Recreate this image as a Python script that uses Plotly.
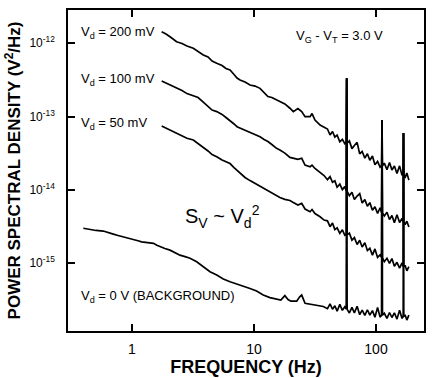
import plotly.graph_objects as go

# ---------------- data ----------------
# shared low-frequency grid (Hz) for the three biased curves
LF_FREQ = [1.75, 1.90, 2.09, 2.32, 2.57, 2.82, 3.18, 3.48, 3.84, 4.20,
           4.53, 4.95, 5.47, 5.89, 6.36, 6.86, 7.26, 7.68, 8.44, 9.27,
           10.2, 11.2, 12.1, 13.0, 14.0, 15.3, 16.3, 17.9, 19.7, 21.0,
           22.9, 24.6, 26.2, 28.8, 29.9, 31.6, 34.8, 37.5]

# background low-frequency grid (Hz)
BG_FREQ = [0.399, 0.453, 0.507, 0.582, 0.639, 0.703, 0.768, 0.849, 0.927, 1.02,
           1.12, 1.20, 1.30, 1.40, 1.50, 1.60, 1.70, 1.86, 2.05, 2.25,
           2.47, 2.72, 2.99, 3.39, 3.84, 4.36, 4.95, 5.60, 6.36, 7.21,
           8.17, 9.27, 10.5, 11.9, 13.5, 15.4, 16.6, 17.9, 19.0, 20.1,
           22.4, 23.6, 24.6, 26.2, 28.2, 30.6, 33.5, 37.0]

# shared high-frequency grid (Hz), includes the mains pick-up lines
HF_FREQ = [40, 42, 44, 46, 48, 50.5, 53, 55.5, 57, 57.5, 58,
           60.5, 63.5, 66.5, 70, 73.5, 77, 81, 85, 89, 93.5, 98, 103, 108,
           111, 112, 113,
           117, 123, 129, 135, 141.5, 148.5, 156, 163.5,
           167, 168, 169,
           173, 179, 186]

# power spectral density (V^2/Hz)
PSD_200_LF = [1.44e-12, 1.34e-12, 1.20e-12, 1.05e-12, 9.94e-13, 9.19e-13, 8.55e-13, 7.73e-13, 6.93e-13, 6.50e-13,
              5.73e-13, 5.34e-13, 4.98e-13, 4.53e-13, 4.32e-13, 3.76e-13, 3.36e-13, 3.16e-13, 2.97e-13, 2.70e-13,
              2.61e-13, 2.43e-13, 2.10e-13, 1.88e-13, 1.82e-13, 1.68e-13, 1.59e-13, 1.49e-13, 1.30e-13, 1.17e-13,
              1.29e-13, 1.17e-13, 9.97e-14, 9.97e-14, 1.10e-13, 8.99e-14, 7.68e-14, 7.10e-14]
PSD_200_HF = [6.77e-14, 5.61e-14, 6.26e-14, 5.27e-14, 5.58e-14, 4.53e-14, 4.90e-14, 4.28e-14, 4.43e-14, 3.33e-13, 4.36e-14,
              4.67e-14, 3.66e-14, 4.04e-14, 4.46e-14, 3.10e-14, 3.35e-14, 2.72e-14, 3.12e-14, 2.54e-14, 2.90e-14, 2.21e-14, 2.45e-14, 2.05e-14,
              2.16e-14, 8.99e-14, 2.13e-14,
              2.32e-14, 1.89e-14, 2.37e-14, 1.87e-14, 2.12e-14, 1.68e-14, 2.13e-14, 1.58e-14,
              1.66e-14, 5.98e-14, 1.63e-14,
              1.46e-14, 1.70e-14, 1.36e-14]

PSD_100_LF = [3.06e-13, 2.88e-13, 2.70e-13, 2.45e-13, 2.27e-13, 2.06e-13, 1.94e-13, 1.82e-13, 1.58e-13, 1.40e-13,
              1.23e-13, 1.17e-13, 1.07e-13, 9.72e-14, 8.85e-14, 7.93e-14, 7.28e-14, 6.99e-14, 6.67e-14, 6.22e-14,
              5.79e-14, 5.32e-14, 4.87e-14, 4.57e-14, 4.16e-14, 3.69e-14, 3.50e-14, 3.18e-14, 2.78e-14, 2.68e-14,
              2.61e-14, 2.70e-14, 2.18e-14, 2.07e-14, 2.18e-14, 1.96e-14, 1.70e-14, 1.57e-14]
PSD_100_HF = [1.38e-14, 1.52e-14, 1.27e-14, 1.33e-14, 1.09e-14, 1.20e-14, 1.01e-14, 1.11e-14, 9.75e-15, 3.33e-13, 9.54e-15,
              8.33e-15, 9.30e-15, 7.40e-15, 8.26e-15, 8.93e-15, 6.63e-15, 7.37e-15, 5.99e-15, 6.71e-15, 5.28e-15, 5.90e-15, 4.78e-15, 5.72e-15,
              4.93e-15, 8.99e-14, 4.86e-15,
              4.42e-15, 4.96e-15, 3.94e-15, 4.48e-15, 3.58e-15, 4.60e-15, 3.59e-15, 4.07e-15,
              3.66e-15, 5.98e-14, 3.64e-15,
              3.37e-15, 3.75e-15, 3.13e-15]

PSD_50_LF = [7.44e-14, 6.99e-14, 6.46e-14, 5.92e-14, 5.44e-14, 5.06e-14, 4.80e-14, 4.30e-14, 3.85e-14, 3.40e-14,
             3.04e-14, 2.84e-14, 2.56e-14, 2.44e-14, 2.29e-14, 2.02e-14, 1.85e-14, 1.67e-14, 1.48e-14, 1.34e-14,
             1.22e-14, 1.13e-14, 1.03e-14, 9.75e-15, 9.07e-15, 8.26e-15, 7.88e-15, 7.44e-15, 7.17e-15, 6.73e-15,
             6.22e-15, 6.56e-15, 5.49e-15, 5.04e-15, 5.40e-15, 4.76e-15, 4.31e-15, 3.88e-15]
PSD_50_HF = [3.79e-15, 3.15e-15, 3.53e-15, 2.88e-15, 3.04e-15, 2.55e-15, 2.86e-15, 2.41e-15, 2.49e-15, 3.33e-13, 2.44e-15,
             2.57e-15, 2.07e-15, 2.24e-15, 1.80e-15, 2.06e-15, 1.67e-15, 1.90e-15, 1.49e-15, 1.60e-15, 1.29e-15, 1.57e-15, 1.20e-15, 1.30e-15,
             1.20e-15, 8.99e-14, 1.18e-15,
             1.05e-15, 1.17e-15, 9.94e-16, 1.16e-15, 9.10e-16, 1.03e-15, 8.57e-16, 1.01e-15,
             9.04e-16, 5.98e-14, 8.94e-16,
             9.42e-16, 7.88e-16, 9.01e-16]

PSD_BG_LF = [3.00e-15, 2.89e-15, 2.80e-15, 2.75e-15, 2.60e-15, 2.50e-15, 2.39e-15, 2.30e-15, 2.20e-15, 2.11e-15,
             2.03e-15, 1.96e-15, 1.94e-15, 1.93e-15, 1.87e-15, 1.76e-15, 1.68e-15, 1.59e-15, 1.51e-15, 1.40e-15,
             1.29e-15, 1.23e-15, 1.17e-15, 1.05e-15, 8.96e-16, 7.66e-16, 6.90e-16, 6.09e-16, 5.59e-16, 5.20e-16,
             4.96e-16, 4.52e-16, 4.18e-16, 3.68e-16, 3.40e-16, 3.25e-16, 3.15e-16, 3.62e-16, 3.20e-16, 3.04e-16,
             3.04e-16, 3.45e-16, 3.68e-16, 2.84e-16, 2.77e-16, 2.69e-16, 2.64e-16, 2.57e-16]
PSD_BG_HF = [2.40e-16, 2.80e-16, 2.36e-16, 2.63e-16, 2.22e-16, 2.75e-16, 2.28e-16, 2.55e-16, 2.37e-16, 3.33e-13, 2.35e-16,
             2.10e-16, 2.50e-16, 2.11e-16, 2.59e-16, 1.99e-16, 2.30e-16, 1.94e-16, 2.32e-16, 1.96e-16, 2.26e-16, 1.84e-16, 2.49e-16, 1.84e-16,
             1.96e-16, 8.99e-14, 1.96e-16,
             2.08e-16, 1.77e-16, 2.13e-16, 1.82e-16, 2.11e-16, 1.73e-16, 2.29e-16, 1.77e-16,
             1.87e-16, 5.98e-14, 1.87e-16,
             1.98e-16, 1.68e-16, 1.96e-16]

SERIES_NAMES = ["V_d = 200 mV", "V_d = 100 mV", "V_d = 50 mV", "V_d = 0 V (background)"]
X_TICKS = [1, 10, 100]
X_TICK_TEXT = ["1", "10", "100"]
Y_TICKS = [1e-15, 1e-14, 1e-13, 1e-12]
Y_TICK_TEXT = ["10<sup>-15</sup>", "10<sup>-14</sup>", "10<sup>-13</sup>", "10<sup>-12</sup>"]

# ---------------- figure ----------------
FONT = "Liberation Sans, Arial, Helvetica, sans-serif"
TITLE_FONT = "Liberation Sans Narrow, Arial Narrow, Liberation Sans, Arial, sans-serif"

fig = go.Figure()
series = [
    (LF_FREQ, PSD_200_LF, PSD_200_HF),
    (LF_FREQ, PSD_100_LF, PSD_100_HF),
    (LF_FREQ, PSD_50_LF, PSD_50_HF),
    (BG_FREQ, PSD_BG_LF, PSD_BG_HF),
]
for name, (flf, plf, phf) in zip(SERIES_NAMES, series):
    fig.add_trace(go.Scatter(
        x=list(flf) + HF_FREQ, y=list(plf) + phf, mode="lines", name=name,
        line=dict(color="black", width=1.7), showlegend=False,
    ))

axis_common = dict(
    showline=True, linecolor="black", linewidth=1.5, mirror="ticks",
    ticks="inside", ticklen=7, tickwidth=1.5, tickcolor="black",
    showgrid=False, zeroline=False, automargin=False,
)

fig.update_xaxes(
    type="log", range=[-0.5246, 2.3934],
    tickvals=X_TICKS, ticktext=X_TICK_TEXT,
    tickfont=dict(family=FONT, size=14, color="black"),
    ticklabelstandoff=4,
    title=dict(text="<b>FREQUENCY (Hz)</b>", font=dict(family=TITLE_FONT, size=18, color="black"), standoff=1),
    **axis_common,
)
fig.update_yaxes(
    type="log", range=[-15.924, -11.546],
    tickvals=Y_TICKS, ticktext=Y_TICK_TEXT,
    tickfont=dict(family=FONT, size=12, color="black"),
    ticklabelstandoff=9,
    title=dict(text="<b>POWER SPECTRAL DENSITY (V<sup>2</sup>/Hz)</b>", font=dict(family=TITLE_FONT, size=17, color="black"), standoff=4),
    **axis_common,
)

ann_font = dict(family=FONT, size=13, color="black")
labels = [
    ("V<sub>d</sub> = 200 mV", 0.0309, 0.931, ann_font),
    ("V<sub>d</sub> = 100 mV", 0.0309, 0.785, ann_font),
    ("V<sub>d</sub> = 50 mV", 0.0309, 0.647, ann_font),
    ("V<sub>d</sub> = 0 V (BACKGROUND)", 0.0309, 0.107, ann_font),
    ("V<sub>G</sub> - V<sub>T</sub> = 3.0 V", 0.635, 0.918, ann_font),
    ("S<sub>V</sub> ~ V<sub>d</sub><sup>2</sup>", 0.323, 0.356, dict(family=FONT, size=20, color="black")),
]
for text, xp, yp, f in labels:
    fig.add_annotation(text=text, x=xp, y=yp, xref="paper", yref="paper",
                       xanchor="left", yanchor="middle", showarrow=False, font=f)

fig.update_layout(
    width=434, height=378,
    margin=dict(l=68, r=10, t=10, b=47),
    paper_bgcolor="white", plot_bgcolor="white",
    showlegend=False,
)

fig.write_html("out.html", config={"displayModeBar": False},
               post_script="document.body.style.margin='0px';")
